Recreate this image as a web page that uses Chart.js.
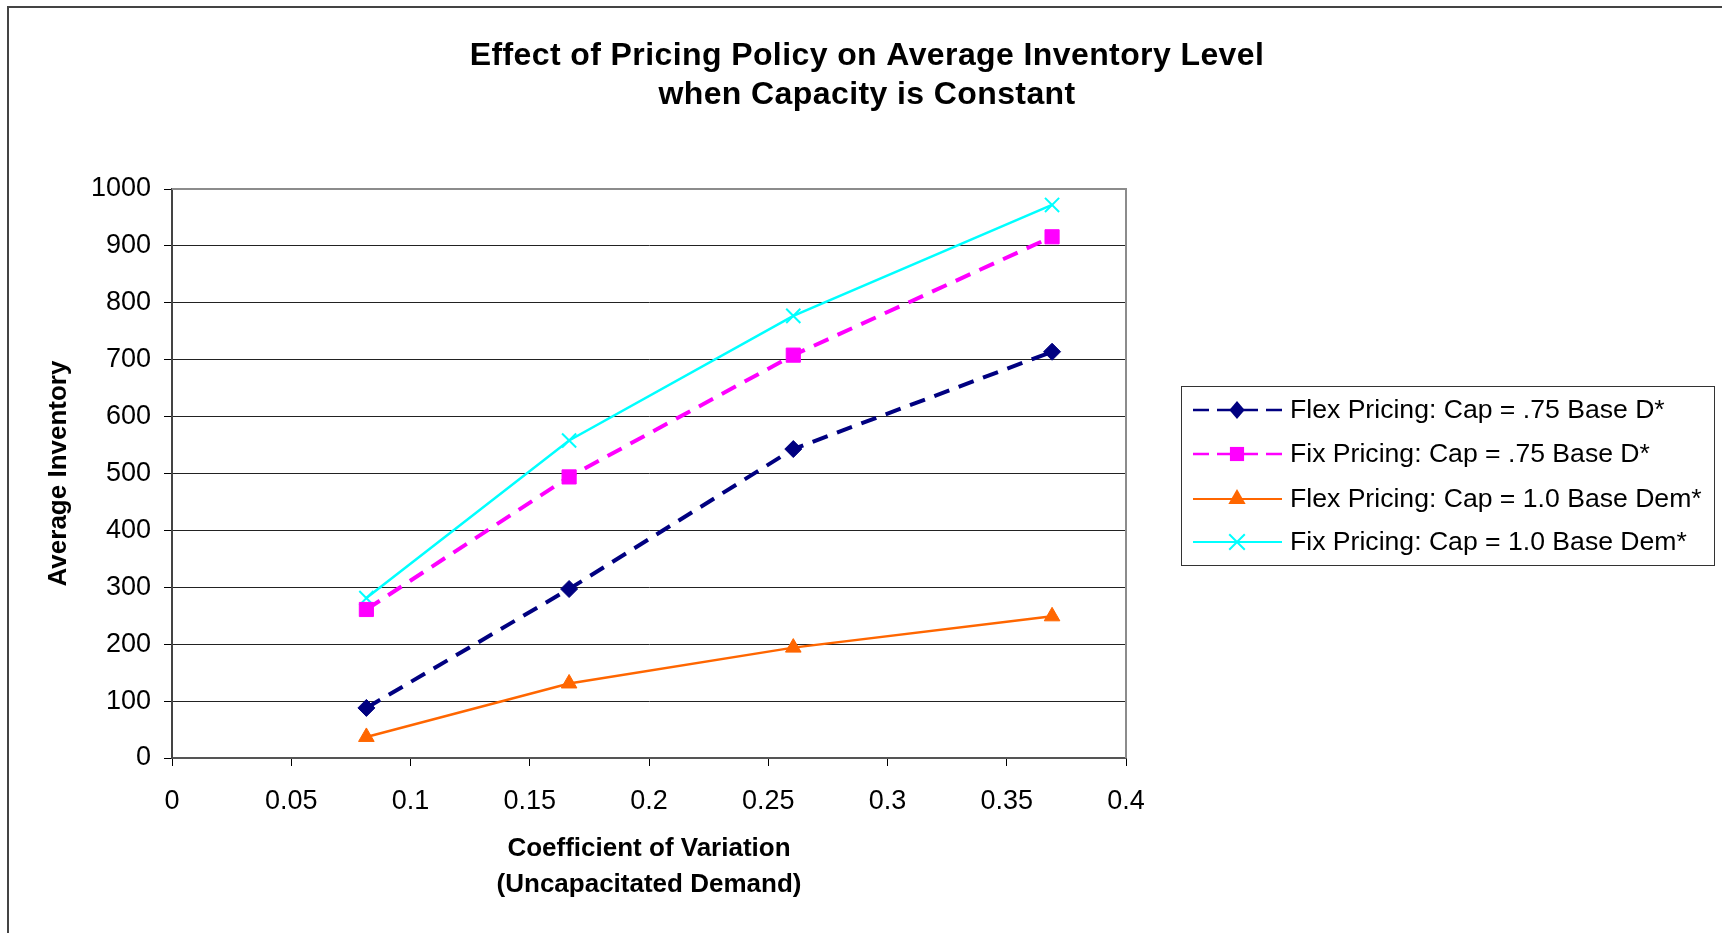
<!DOCTYPE html>
<html>
<head>
<meta charset="utf-8">
<title>Effect of Pricing Policy on Average Inventory Level</title>
<script src="https://cdn.jsdelivr.net/npm/chart.js@4.4.1/dist/chart.umd.min.js"></script>
<style>
  html, body { margin: 0; padding: 0; background: #fff; }
  #wrap { width: 1722px; height: 933px; position: relative; }
</style>
</head>
<body>
<div id="wrap"><canvas id="grafica"></canvas></div>
<script>
// ─────────────────────────────────────────────────────────────
// DATA
// ─────────────────────────────────────────────────────────────
const coefVariacion = [0.0815, 0.1665, 0.2605, 0.369];

const flexCap075 = [88, 297, 543, 714];
const fixCap075  = [261, 494, 708, 916];
const flexCap100 = [37, 131, 194, 249];
const fixCap100  = [281, 558, 777, 972];

const nombresSeries = [
    'Flex Pricing: Cap = .75 Base D*',
    'Fix Pricing: Cap = .75 Base D*',
    'Flex Pricing: Cap = 1.0 Base Dem*',
    'Fix Pricing: Cap = 1.0 Base Dem*'
];

const tituloGrafica = ['Effect of Pricing Policy on Average Inventory Level', 'when Capacity is Constant'];
const tituloEjeX = ['Coefficient of Variation', '(Uncapacitated Demand)'];
const tituloEjeY = 'Average Inventory';

const ejeX = { min: 0, max: 0.4, paso: 0.05 };
const ejeY = { min: 0, max: 1000, paso: 100 };

const FUENTE = "'Liberation Sans', Arial, Helvetica, sans-serif";
Chart.defaults.font.family = FUENTE;
Chart.defaults.color = '#000';

function puntos(valores) {
    return coefVariacion.map((x, i) => ({ x: x, y: valores[i] }));
}

// ─────────────────────────────────────────────────────────────
// MARCADORES (para la leyenda)
// ─────────────────────────────────────────────────────────────
function dibujarMarcador(ctx, tipo, x, y, r, color) {
    ctx.save();
    ctx.fillStyle = color;
    ctx.strokeStyle = color;
    ctx.setLineDash([]);
    ctx.beginPath();
    if (tipo === 'rectRot') {
        ctx.moveTo(x, y - r); ctx.lineTo(x + r * 0.85, y); ctx.lineTo(x, y + r); ctx.lineTo(x - r * 0.85, y);
        ctx.closePath(); ctx.fill();
    } else if (tipo === 'rect') {
        const s = r * Math.SQRT1_2;
        ctx.rect(x - s, y - s, 2 * s, 2 * s); ctx.fill();
    } else if (tipo === 'triangle') {
        ctx.moveTo(x, y - r);
        ctx.lineTo(x + r * Math.sin(Math.PI * 2 / 3), y - r * Math.cos(Math.PI * 2 / 3));
        ctx.lineTo(x + r * Math.sin(Math.PI * 4 / 3), y - r * Math.cos(Math.PI * 4 / 3));
        ctx.closePath(); ctx.fill();
    } else if (tipo === 'crossRot') {
        const d = r * Math.SQRT1_2;
        ctx.lineWidth = 2;
        ctx.moveTo(x - d, y - d); ctx.lineTo(x + d, y + d);
        ctx.moveTo(x + d, y - d); ctx.lineTo(x - d, y + d);
        ctx.stroke();
    }
    ctx.restore();
}

// ─────────────────────────────────────────────────────────────
// PLUGIN: marco exterior, título, borde del área de trazado y leyenda
// ─────────────────────────────────────────────────────────────
const marcoYLeyenda = {
    id: 'marcoYLeyenda',
    beforeDraw(chart) {
        const ctx = chart.ctx;
        ctx.save();
        ctx.fillStyle = '#fff';
        ctx.fillRect(0, 0, chart.width, chart.height);
        ctx.strokeStyle = '#444';
        ctx.lineWidth = 2;
        ctx.beginPath();
        ctx.moveTo(8, chart.height + 2);
        ctx.lineTo(8, 7);
        ctx.lineTo(chart.width + 2, 7);
        ctx.stroke();

        // título en dos líneas, centrado sobre todo el marco
        ctx.fillStyle = '#000';
        ctx.font = 'bold 32px ' + FUENTE;
        ctx.textAlign = 'center';
        ctx.textBaseline = 'middle';
        if ('letterSpacing' in ctx) ctx.letterSpacing = '0.4px';
        ctx.fillText(tituloGrafica[0], 867, 56);
        ctx.fillText(tituloGrafica[1], 867, 95);
        if ('letterSpacing' in ctx) ctx.letterSpacing = '0px';
        ctx.restore();
    },
    beforeDatasetsDraw(chart) {
        const { ctx, chartArea: a } = chart;
        ctx.save();
        ctx.strokeStyle = '#8c8c8c';
        ctx.lineWidth = 2;
        ctx.beginPath();
        ctx.moveTo(a.left, a.top);
        ctx.lineTo(a.right, a.top);
        ctx.lineTo(a.right, a.bottom);
        ctx.stroke();
        ctx.restore();
    },
    afterDraw(chart) {
        const ctx = chart.ctx;
        const caja = { x: 1181.5, y: 386.5, w: 533, h: 179 };
        ctx.save();
        ctx.strokeStyle = '#333';
        ctx.lineWidth = 1;
        ctx.strokeRect(caja.x, caja.y, caja.w, caja.h);
        const filas = [410, 454, 499, 542];
        ctx.font = '26.6px ' + FUENTE;
        ctx.textBaseline = 'middle';
        ctx.textAlign = 'left';
        chart.data.datasets.forEach((ds, i) => {
            const y = filas[i];
            ctx.save();
            ctx.strokeStyle = ds.borderColor;
            ctx.lineWidth = ds.leyendaGrosor;
            ctx.setLineDash(ds.borderDash ? [16, 8, 41, 8, 16, 100] : []);
            ctx.beginPath();
            ctx.moveTo(1193, y);
            ctx.lineTo(1282, y);
            ctx.stroke();
            ctx.restore();
            dibujarMarcador(ctx, ds.pointStyle, 1237, y, ds.leyendaRadio, ds.borderColor);
            ctx.fillStyle = '#000';
            ctx.fillText(ds.label, 1290, y + 1);
        });
        ctx.restore();
    }
};

// ─────────────────────────────────────────────────────────────
// GRÁFICA
// ─────────────────────────────────────────────────────────────
new Chart(document.getElementById('grafica'), {
    type: 'scatter',
    data: {
        datasets: [
            {
                label: nombresSeries[0],
                data: puntos(flexCap075),
                showLine: true,
                borderColor: '#000080',
                backgroundColor: '#000080',
                borderWidth: 4,
                borderDash: [16, 10],
                leyendaGrosor: 2.5,
                leyendaRadio: 9,
                pointStyle: 'rectRot',
                pointRadius: 8.5,
                pointBorderWidth: 1
            },
            {
                label: nombresSeries[1],
                data: puntos(fixCap075),
                showLine: true,
                borderColor: '#ff00ff',
                backgroundColor: '#ff00ff',
                borderWidth: 4,
                borderDash: [16, 10],
                leyendaGrosor: 2.5,
                leyendaRadio: 10,
                pointStyle: 'rect',
                pointRadius: 10,
                pointBorderWidth: 1
            },
            {
                label: nombresSeries[2],
                data: puntos(flexCap100),
                showLine: true,
                borderColor: '#ff6600',
                backgroundColor: '#ff6600',
                borderWidth: 2.5,
                leyendaGrosor: 2,
                leyendaRadio: 10,
                pointStyle: 'triangle',
                pointRadius: 9,
                pointBorderWidth: 1
            },
            {
                label: nombresSeries[3],
                data: puntos(fixCap100),
                showLine: true,
                borderColor: '#00ffff',
                backgroundColor: '#00ffff',
                borderWidth: 2.5,
                leyendaGrosor: 2,
                leyendaRadio: 11,
                pointStyle: 'crossRot',
                pointRadius: 10,
                pointBorderWidth: 2
            }
        ]
    },
    options: {
        responsive: true,
        maintainAspectRatio: false,
        animation: false,
        layout: {
            padding: { left: 15, top: 189, right: 596, bottom: 20 }
        },
        plugins: {
            legend: { display: false },
            tooltip: { enabled: false },
            title: { display: false }
        },
        scales: {
            x: {
                type: 'linear',
                min: ejeX.min,
                max: ejeX.max,
                afterFit: s => { s.height = 155; },
                ticks: {
                    stepSize: ejeX.paso,
                    padding: 19,
                    font: { size: 27 },
                    color: '#000',
                    maxRotation: 0,
                    callback: v => String(+v.toFixed(2))
                },
                grid: {
                    drawOnChartArea: false,
                    drawTicks: true,
                    tickLength: 8,
                    color: '#000'
                },
                border: { color: '#555', width: 2 },
                title: {
                    display: true,
                    text: tituloEjeX,
                    color: '#000',
                    font: { size: 26, weight: 'bold', lineHeight: 1.385 },
                    padding: { top: 0, bottom: 10 }
                }
            },
            y: {
                min: ejeY.min,
                max: ejeY.max,
                afterFit: s => { s.width = 157; },
                ticks: {
                    stepSize: ejeY.paso,
                    padding: 13,
                    font: { size: 27 },
                    color: '#000',
                    callback: v => String(v)
                },
                grid: {
                    color: '#222',
                    lineWidth: 1,
                    tickLength: 8,
                    tickColor: '#000'
                },
                border: { color: '#444', width: 2 },
                title: {
                    display: true,
                    text: tituloEjeY,
                    color: '#000',
                    font: { size: 26, weight: 'bold', lineHeight: 1.2 },
                    padding: { top: 28, bottom: 0 }
                }
            }
        }
    },
    plugins: [marcoYLeyenda]
});
</script>
</body>
</html>
